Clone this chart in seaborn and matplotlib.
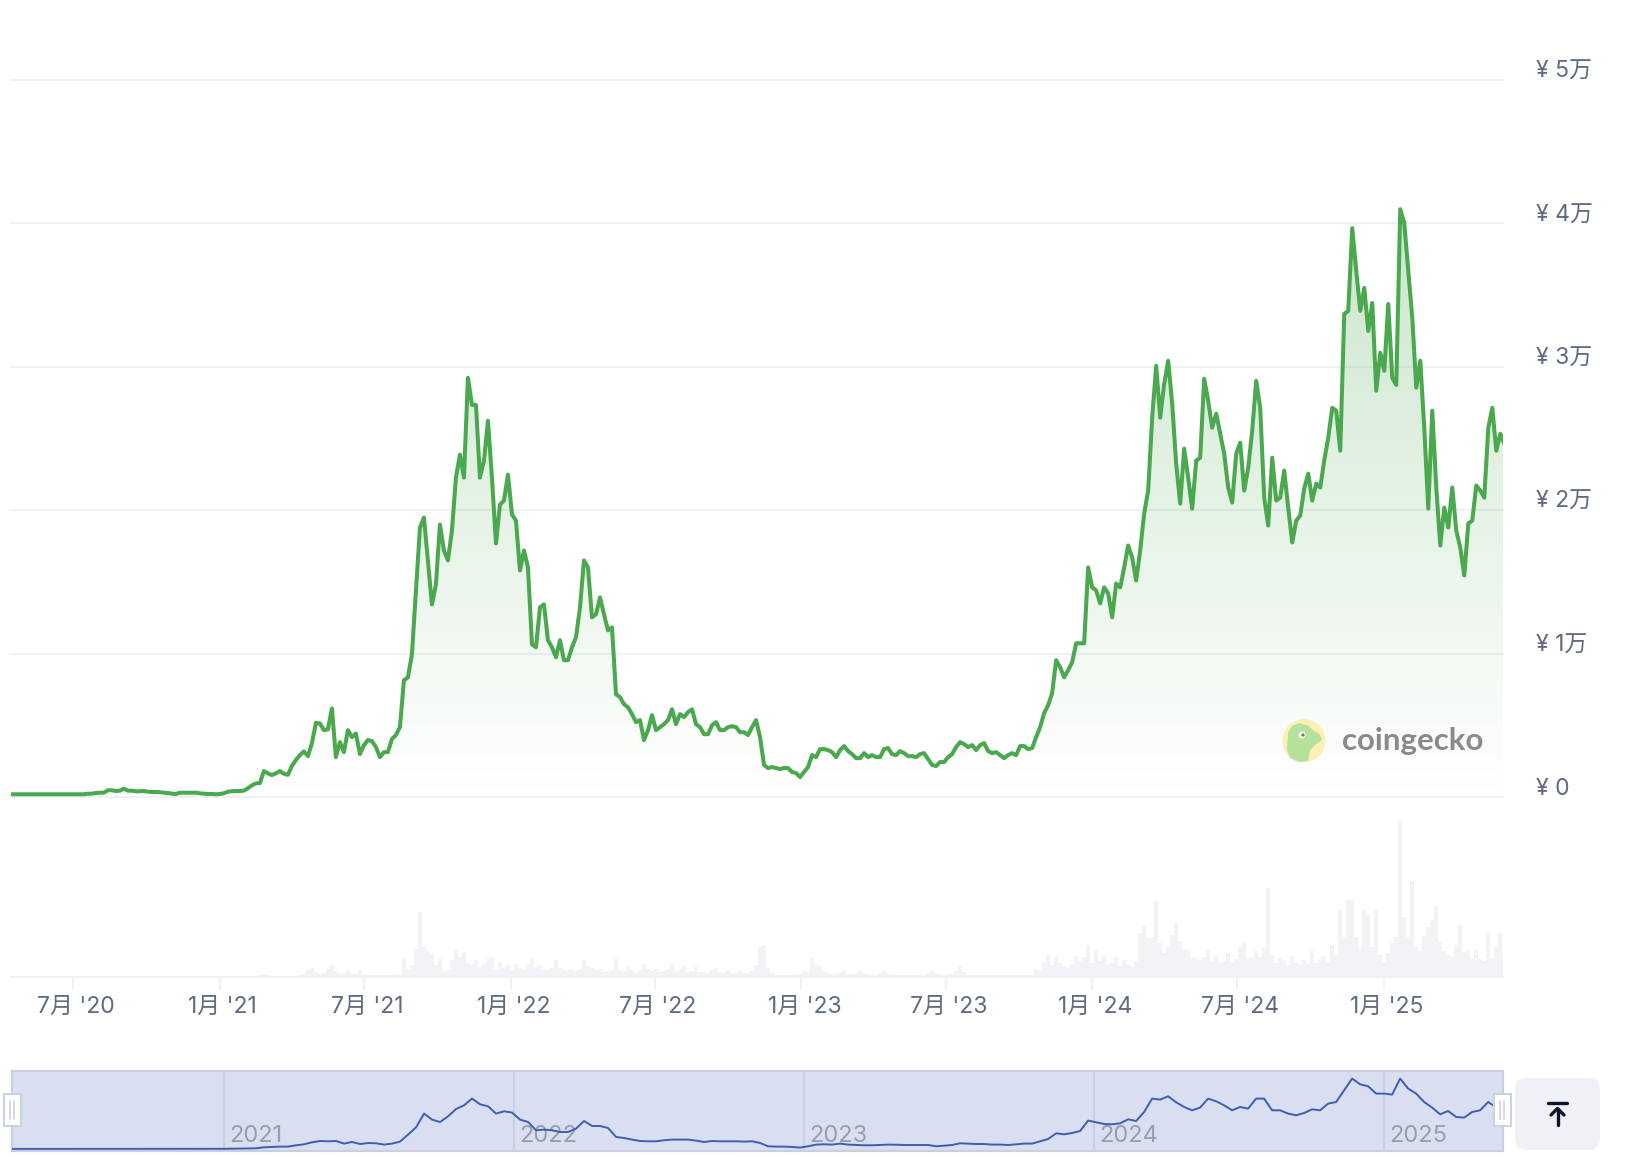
import numpy as np
import pandas as pd
import seaborn as sns
import matplotlib.pyplot as plt
import matplotlib.dates as mdates
from matplotlib.patches import Circle, FancyBboxPatch, Polygon, Rectangle
from matplotlib.transforms import ScaledTranslation

sns.set_theme(style="white")
plt.rcParams['font.family'] = ['Inter', 'Noto Sans CJK JP', 'DejaVu Sans']

# price in yen, one reading about every five days
price_values = [190] * 19 + [
    230, 230, 280, 300, 300, 470, 470, 420, 440, 580, 440, 440, 400, 400, 420, 370, 350, 350, 330, 300,
    280, 230, 210, 300, 300, 300, 300, 300, 260, 230, 210, 210, 190, 210, 260, 370, 400, 420, 420, 440,
    610, 810, 950, 970, 1810, 1650, 1530, 1650, 1810, 1620, 1550, 2160, 2580, 2920, 3180, 2850, 3740, 5170, 5130, 4660,
    4710, 6170, 2780, 3830, 3130, 4660, 4180, 4430, 2990, 3620, 3970, 3900, 3480,
    2780, 3130, 3130, 4040, 4320, 4870, 8140, 8350, 9950, 14410, 18790, 19490, 16500, 13430, 14820, 19000, 17190, 16500, 18580, 22270,
    23870, 22270, 29230, 27350, 27350, 22270, 23460, 26240, 22270, 17680, 20390, 20670, 22480, 19700, 19280, 15800, 17190, 16010, 10650, 10440,
    13220, 13430, 10930, 10440, 9740, 10930, 9540, 9540, 10440, 11140, 13220, 16500, 16010, 12530, 12740, 13920, 12740, 11620, 11830, 7170,
    6960, 6470, 6260, 5780, 5220, 5360, 3970, 4660, 5710, 4660, 4870, 5080, 5360, 6120, 5080, 5780, 5570, 5920, 6120, 5080,
    4870, 4380, 4380, 5010, 5220, 4660, 4660, 4870, 4940, 4870, 4520, 4520, 4320, 4870, 5360, 4180,
    2230, 2020, 2090, 2020, 1950, 2020, 2020, 1740, 1670, 1390, 1740, 2090, 2920, 2780, 3340, 3340, 3270, 3130, 2780, 3270,
    3550, 3200, 2990, 2710, 2710, 3060, 2780, 2920, 2780, 2780, 3340, 3410, 2990, 2920, 3200, 3060, 2850, 2850, 2780, 2990,
    3060, 2640, 2230, 2160, 2440, 2440, 2780, 2990, 3480, 3830, 3690, 3480, 3620, 3270, 3620, 3760, 3200, 3060, 3130, 2920,
    2710, 2920, 3060, 2920, 3550, 3550, 3340, 3410,
    4180, 4870, 5850, 6400, 7240, 9540, 9050, 8350, 8840, 9400, 10720, 10720, 10720, 16010, 14620, 14410, 13500, 14620, 14200, 12530,
    14890, 14620, 16010, 17540, 16700, 15100, 17190, 19770, 21370, 26450, 30070, 26450, 28810, 30420, 27420, 23250, 20460, 24290, 22270, 20110,
    23460, 23660, 29160, 27630, 25750, 26730, 25330, 23940, 21580, 20530, 23940, 24710, 21370, 22970, 25540, 29020, 27140, 20880, 18930,
    23660, 20670, 20880, 22760, 20180, 17750, 19280, 19630, 21510, 22550, 20670, 21850, 21580, 23460, 25060, 27140, 26940, 24150, 33690, 33900,
    39670, 36680, 33900, 35500, 32500, 34450, 28330, 30970, 29720, 34380, 29230, 28740, 40990, 40020, 36680, 33410, 28540, 30420, 25750, 20110,
    26940, 21580, 17540, 20180, 18790, 21580, 18580, 17400, 15450, 19070, 19280, 21720, 21370, 20880, 25750, 27140, 24150, 25330, 24640,
]

# traded volume, relative units, same dates as the price
volume_values = [0] * 54 + [
    1, 0, 0, 0, 0, 0, 1, 1, 2, 3, 2, 1, 1, 1, 1, 1, 1, 1, 2, 3,
    7, 9, 5, 3, 4, 8, 12, 6, 3, 4, 7, 3, 3, 7, 2, 2, 2, 2, 2, 2,
    2, 2, 2, 3, 18, 8, 12, 28, 65, 30, 26, 23, 12, 18, 6, 8, 17, 27, 20, 25,
    14, 12, 17, 10, 13, 18, 20, 8, 15, 9, 12, 7, 13, 9, 7, 12, 18, 10, 12, 8,
    7, 9, 17, 9, 7, 7, 8, 6, 8, 17, 11, 9, 7, 8, 5, 6, 7, 18, 7, 6,
    10, 7, 5, 7, 13, 8, 6, 8, 5, 6, 8, 13, 6, 8, 11, 5, 6, 10, 5, 5,
    4, 7, 9, 5, 5, 7, 4, 4, 7, 4, 4, 6, 12, 30, 32, 9, 4, 2, 2, 2,
    2, 2, 2, 3, 6, 5, 19, 13, 11, 6, 4, 3, 3, 5, 7, 3, 3, 4, 6, 3,
    3, 2, 2, 4, 6, 3, 2, 2, 2, 2, 2, 2, 2, 2, 2, 4, 6, 3, 3, 2,
    3, 3, 6, 11, 5, 2, 2, 2, 2, 2, 2, 2, 2, 2, 2, 2, 2, 2, 2, 2,
    2, 2, 8, 6, 15, 22, 12, 21, 14, 11, 9, 13, 21, 16, 20, 32, 14, 27, 16, 21,
    12, 14, 20, 11, 17, 12, 10, 16, 44, 51, 39, 40, 76, 34, 24, 30, 42, 54, 36, 28,
    26, 20, 18, 17, 20, 27, 15, 21, 14, 16, 24, 15, 18, 30, 34, 18, 20, 26, 20, 29,
    89, 22, 14, 19, 17, 12, 21, 14, 12, 17, 13, 26, 14, 18, 21, 15, 32, 22, 67, 40,
    77, 77, 40, 29, 67, 62, 30, 67, 22, 15, 24, 34, 40, 156, 60, 40, 96, 30, 26, 41,
    50, 57, 71, 35, 26, 22, 20, 32, 52, 25, 26, 18, 27, 18, 16, 44, 19, 30, 44, 22,
]

# smoothed overview line under the main chart, yen
nav_values = [200] * 27 + [
    250, 300, 350, 400, 500, 1000, 1150, 1350, 1350, 2000, 2500, 3500, 4150, 4000, 4150, 2850, 3650, 2650, 3150, 3000,
    2350, 2850, 3850, 7350, 11000, 17850, 14850, 13650, 16500, 20150, 22000, 25350, 22500, 21500, 17850, 19000, 18350, 14850, 13650, 9500,
    9850, 9500, 8650, 8650, 10350, 14150, 11650, 11650, 10650, 6150, 5650, 4850, 4150, 4000, 4000, 4500, 4850, 4850, 4850, 4350,
    3650, 4150, 4000, 4000, 4000, 3850, 4000, 3150, 1500, 1350, 1350, 1150, 850, 1500, 2350, 2500, 2350, 2850, 2350, 2150,
    2000, 2000, 2150, 2350, 2300, 2150, 2150, 2150, 2150, 1500, 1850, 2150, 3000, 2850, 2650, 2650, 2350, 2350, 2150, 2500,
    2850, 2850, 4000, 5150, 8000, 7500, 8150, 9150, 14350, 13500, 12650, 12500, 13000, 15000, 14150, 18650, 25350, 24850, 26500, 23500,
    21150, 19500, 20850, 25350, 24000, 22000, 19500, 21150, 20350, 25350, 25350, 19500, 19500, 17850, 17000, 18150, 20000, 19500, 22850, 23650,
    29500, 35350, 32500, 31500, 27850, 27850, 27350, 35350, 30350, 27850, 23650, 20850, 17500, 19150, 16150, 15850, 18650, 19500, 23650, 21000,
]

y_ticks = [0, 10000, 20000, 30000, 40000, 50000]
y_labels = ['¥ 0', '¥ 1万', '¥ 2万', '¥ 3万', '¥ 4万', '¥ 5万']
x_ticks = ['2020-07-01', '2021-01-01', '2021-07-01', '2022-01-01', '2022-07-01',
           '2023-01-01', '2023-07-01', '2024-01-01', '2024-07-01', '2025-01-01']
x_labels = ["7月 '20", "1月 '21", "7月 '21", "1月 '22", "7月 '22",
            "1月 '23", "7月 '23", "1月 '24", "7月 '24", "1月 '25"]
nav_years = ['2021', '2022', '2023', '2024', '2025']

W, H = 1626, 1176
TEXT = '#5f6b82'
GRID = '#f0f1f5'
GREEN = '#4aa84e'

df = pd.DataFrame({
    'date': pd.date_range('2020-04-15', '2025-06-01', periods=len(price_values)),
    'price': price_values,
    'volume': volume_values,
})
nav = pd.DataFrame({
    'date': pd.date_range('2020-04-04', '2025-05-22', periods=len(nav_values)),
    'price': nav_values,
})


def box(left, top, right, bottom):
    return [left / W, 1 - bottom / H, (right - left) / W, (bottom - top) / H]


fig = plt.figure(figsize=(W / 100, H / 100), dpi=100)
main_lim = pd.to_datetime(['2020-04-14', '2025-05-30'])

# price panel
ax = fig.add_axes(box(11, 80, 1502.7, 797))
sns.lineplot(data=df, x='date', y='price', ax=ax, color=GREEN, linewidth=2.9,
             solid_joinstyle='round', errorbar=None, zorder=4)
area = ax.fill_between(df['date'], df['price'], 0, color='none', zorder=2)
x0, x1 = mdates.date2num(main_lim)
ramp = np.zeros((256, 1, 4))
ramp[..., :3] = (74 / 255, 168 / 255, 78 / 255)
ramp[..., 3] = np.linspace(0.29, 0, 256)[:, None]
grad = ax.imshow(ramp, extent=[x0, x1, 0, 41000], aspect='auto', origin='upper', zorder=2)
grad.set_clip_path(area.get_paths()[0], ax.transData)
ax.set_xlim(main_lim)
ax.set_ylim(0, 50000)
ax.set_yticks(y_ticks)
ax.set_yticklabels(y_labels, color=TEXT, fontsize=16.5, va='bottom')
ax.yaxis.tick_right()
ax.tick_params(axis='y', length=0, pad=24)
nudge = ScaledTranslation(0, -2.2 / 72, fig.dpi_scale_trans)
for label in ax.get_yticklabels():
    label.set_transform(label.get_transform() + nudge)
ax.set_xticks([])
ax.set(xlabel=None, ylabel=None)
ax.grid(axis='y', color=GRID, linewidth=1.5, zorder=1)
ax.set_axisbelow(True)
for line in ax.get_ygridlines():
    line.set_clip_on(False)
sns.despine(ax=ax, left=True, bottom=True, right=True, top=True)
ax.patch.set_alpha(0)

# volume panel
vol = fig.add_axes(box(11, 800, 1502.7, 976.5))
vol.bar(df['date'], df['volume'], width=5.1, color='#f2f3f7', linewidth=0)
vol.set_xlim(main_lim)
vol.set_ylim(0, 176.5)
vol.set_yticks([])
vol.set_xticks(pd.to_datetime(x_ticks))
vol.set_xticklabels(x_labels, color=TEXT, fontsize=16.5)
vol.tick_params(axis='x', length=9.5, width=1.5, color=GRID, pad=4.5, bottom=True)
shift = ScaledTranslation(2.2 / 72, 0, fig.dpi_scale_trans)
for label in vol.get_xticklabels():
    label.set_transform(label.get_transform() + shift)
sns.despine(ax=vol, left=True, right=True, top=True)
vol.spines['bottom'].set_color(GRID)
vol.spines['bottom'].set_linewidth(1.5)
vol.patch.set_alpha(0)

# overview strip
strip = fig.add_axes(box(12, 1071, 1502.5, 1150.7))
strip.set_facecolor('#d9dff0')
strip.set_xticks(pd.to_datetime([y + '-01-01' for y in nav_years]))
strip.set_xticklabels([])
strip.tick_params(axis='both', length=0)
strip.set_yticks([])
strip.grid(axis='x', color='#c8d0df', linewidth=1.5)
strip.set_axisbelow(True)
for y in nav_years:
    strip.annotate(y, (pd.Timestamp(y + '-01-01'), 0), xycoords=('data', 'axes fraction'),
                   xytext=(4, 6.5), textcoords='offset points', color='#9a9ea9', fontsize=17)
sns.lineplot(data=nav, x='date', y='price', ax=strip, color='#3c5fb0', linewidth=1.4,
             errorbar=None, zorder=3)
strip.set_xlim(pd.to_datetime(['2020-04-09', '2025-05-30']))
strip.set_ylim(-700, 39150)
strip.set(xlabel=None, ylabel=None)
for s in strip.spines.values():
    s.set_color('#c8d0df')
    s.set_linewidth(1.5)

# overlay in pixel coordinates for logo, handles and button
over = fig.add_axes([0, 0, 1, 1], zorder=10)
over.set_xlim(0, W)
over.set_ylim(H, 0)
over.axis('off')

over.add_patch(Circle((1304, 740.7), 21.5, fc='#fbefb4', ec='none'))
gecko = Polygon([(1288, 733), (1292, 726), (1299, 723), (1307, 725), (1313, 730), (1320, 735),
                 (1322, 740), (1316, 744), (1310, 750), (1308, 761), (1299, 762), (1290, 758),
                 (1287, 750)], closed=True, fc='#b5e29b', ec='none')
over.add_patch(gecko)
over.add_patch(Circle((1302, 735), 3.6, fc='#f4f6f0', ec='none'))
over.add_patch(Circle((1303, 735), 1.6, fc='#6d7a64', ec='none'))
over.text(1342, 750, 'coingecko', fontsize=22.5, fontweight='bold', color='#8a8a8a',
          family=['Lato', 'DejaVu Sans'], va='baseline', ha='left')

for left in (3.5, 1493.7):
    over.add_patch(Rectangle((left, 1094), 17, 31.7, fc='white', ec='#ccd3e0', lw=1.5))
    for dx in (6.5, 10.5):
        over.plot([left + dx, left + dx], [1101, 1119], color='#ccd3e0', lw=1.2)

over.add_patch(FancyBboxPatch((1527, 1089.7), 61, 48.3, boxstyle='round,pad=12', fc='#eff1f6', ec='none'))
over.plot([1548, 1567], [1102.7, 1102.7], color='#0d1526', lw=2.4, solid_capstyle='round')
over.plot([1557.5, 1557.5], [1125, 1109], color='#0d1526', lw=2.4, solid_capstyle='round')
over.plot([1551, 1557.5, 1564], [1115, 1108.5, 1115], color='#0d1526', lw=2.4,
          solid_capstyle='round', solid_joinstyle='round')

fig.savefig('out.png', dpi=100, facecolor='white')
